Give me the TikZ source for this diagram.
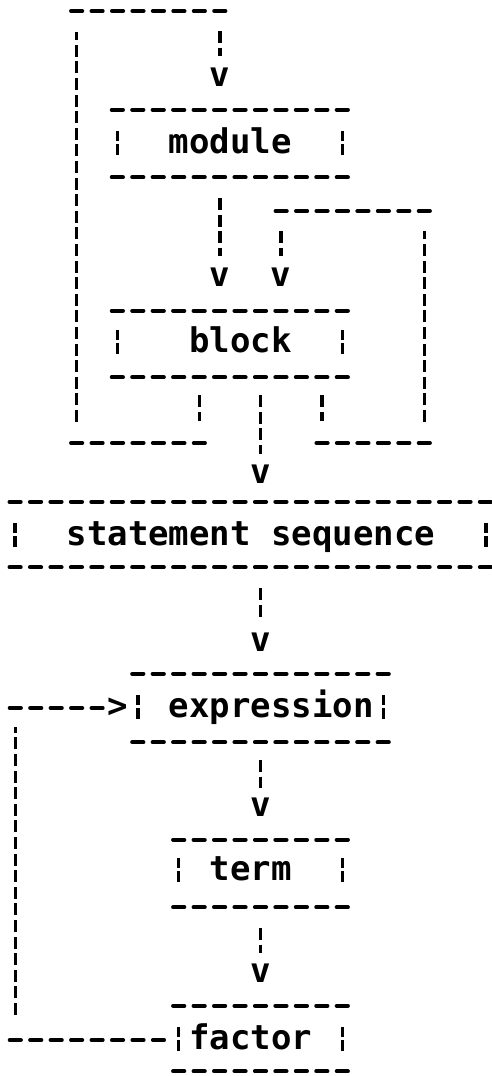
\documentclass[tikz,border=0pt]{standalone}
\usepackage{fontspec}
\newfontfamily\asciifont{DejaVu Sans Mono Bold}
\usetikzlibrary{calc}
\newcommand\cx[1]{(15.3+20.45*(#1))}
\tikzset{
  hdash/.style={line width=4pt, line cap=round, dash pattern=on 11.2pt off 9.25pt},
  vbar/.style={line width=3.4pt, dash pattern=on 12pt off 4.6pt},
  sidebar/.style={line width=3.4pt, dash pattern=on 10.5pt off 3pt},
  glyph/.style={font=\asciifont\fontsize{34pt}{34pt}\selectfont, inner sep=0pt, text height=18.5pt, text depth=0pt},
  boxarea/.style={inner sep=0pt, draw=none, rectangle},
}
% name, c1, c2, top, text y, bottom, text col, text
\newcommand\abox[8]{%
  \node[boxarea, minimum width={(#3-#2+1)*20.45pt}, minimum height={(#6-#4)*1pt}] (#1) at ({(\cx{#2}+\cx{#3})/2},{(#4+#6)/2}) {};
  \node[glyph, anchor=west] (#1-t) at ({\cx{#7}-10.225},#5) {#8};
  \draw[hdash] ([xshift=4.625pt]#1.north west) -- ([xshift=-4.625pt]#1.north east);
  \draw[hdash] ([xshift=4.625pt]#1.south west) -- ([xshift=-4.625pt]#1.south east);
  \draw[sidebar] ($(#1.north west |- #1-t.north)+(10.225,-3.75)$) -- ($(#1.north west |- #1-t.south)+(10.225,3)$);
  \draw[sidebar] ($(#1.north east |- #1-t.north)+(-10.225,-3.75)$) -- ($(#1.north east |- #1-t.south)+(-10.225,3)$);
}
\begin{document}
\begin{tikzpicture}[x=1pt,y=-1pt]
\fill[white] (0,0) rectangle (491,1076);
\useasboundingbox (0,0) rectangle (491,1076);

% boxes
\abox{module}{5}{16}{110}{144}{177}{8}{module}
\abox{block}{5}{16}{311}{343}{377}{9}{block}
\abox{stmt}{0}{23}{502}{536}{567}{3}{statement sequence}
\abox{expr}{6}{18}{674}{708}{742}{8}{expression}
\abox{term}{8}{16}{840}{871}{907}{10}{term}
\abox{factor}{8}{16}{1006}{1040}{1071}{9}{factor}

% arrow heads
\node[glyph] (vM)  at ({\cx{10}},77)  {v};
\node[glyph] (vB1) at ({\cx{10}},277) {v};
\node[glyph] (vB2) at ({\cx{13}},277) {v};
\node[glyph] (vS)  at ({\cx{12}},474) {v};
\node[glyph] (vE)  at ({\cx{12}},642) {v};
\node[glyph] (vT)  at ({\cx{12}},807) {v};
\node[glyph] (vF)  at ({\cx{12}},973) {v};
\node[glyph] (aE)  at ({\cx{5}},708)  {>};

% block -> module (left loop)
\coordinate (l0) at ({\cx{9}},395);
\coordinate (l1) at ({\cx{9}},421);
\coordinate (l2) at ({\cx{9}+5.6},443);
\coordinate (l3) at ({\cx{3}-5.6},443);
\coordinate (l4) at ({\cx{3}},422);
\coordinate (l5) at ({\cx{3}},32);
\coordinate (l6) at ({\cx{3}-5.6},11);
\coordinate (l7) at ({\cx{10}+5.6},11);
\coordinate (l8) at ({\cx{10}},31);
\coordinate (l9) at ({\cx{10}},56);
\draw[vbar] (l0) -- (l1);
\draw[hdash] (l2) -- (l3);
\draw[vbar] (l4) -- (l5);
\draw[hdash] (l6) -- (l7);
\draw[vbar] (l8) -- (l9);

% module -> block
\coordinate (m0) at ({\cx{10}},198);
\coordinate (m1) at ({\cx{10}},256);
\draw[vbar] (m0) -- (m1);

% block -> block (right loop)
\coordinate (r0) at ({\cx{15}},395);
\coordinate (r1) at ({\cx{15}},421);
\coordinate (r2) at ({\cx{15}-5.6},443);
\coordinate (r3) at ({\cx{20}+5.6},443);
\coordinate (r4) at ({\cx{20}},422);
\coordinate (r5) at ({\cx{20}},231);
\coordinate (r6) at ({\cx{20}+5.6},211);
\coordinate (r7) at ({\cx{13}-5.6},211);
\coordinate (r8) at ({\cx{13}},231);
\coordinate (r9) at ({\cx{13}},256);
\draw[vbar] (r0) -- (r1);
\draw[hdash] (r2) -- (r3);
\draw[vbar] (r4) -- (r5);
\draw[hdash] (r6) -- (r7);
\draw[vbar] (r8) -- (r9);

% block -> statement sequence
\coordinate (s0) at ({\cx{12}},395);
\coordinate (s1) at ({\cx{12}},454);
\draw[vbar] (s0) -- (s1);

% statement sequence -> expression
\coordinate (e0) at ({\cx{12}},588);
\coordinate (e1) at ({\cx{12}},620);
\draw[vbar] (e0) -- (e1);

% expression -> term
\coordinate (t0) at ({\cx{12}},760);
\coordinate (t1) at ({\cx{12}},788);
\draw[vbar] (t0) -- (t1);

% term -> factor
\coordinate (f0) at ({\cx{12}},928);
\coordinate (f1) at ({\cx{12}},953);
\draw[vbar] (f0) -- (f1);

% factor -> expression (loop back)
\coordinate (x0) at ({\cx{7}+5.6},1040);
\coordinate (x1) at ({\cx{0}-5.6},1040);
\coordinate (x2) at ({\cx{0}},1015);
\coordinate (x3) at ({\cx{0}},727);
\coordinate (x4) at ({\cx{0}-5.6},708);
\coordinate (x5) at ({\cx{4}+5.6},708);
\draw[hdash] (x0) -- (x1);
\draw[vbar] (x2) -- (x3);
\draw[hdash] (x4) -- (x5);
\end{tikzpicture}
\end{document}
